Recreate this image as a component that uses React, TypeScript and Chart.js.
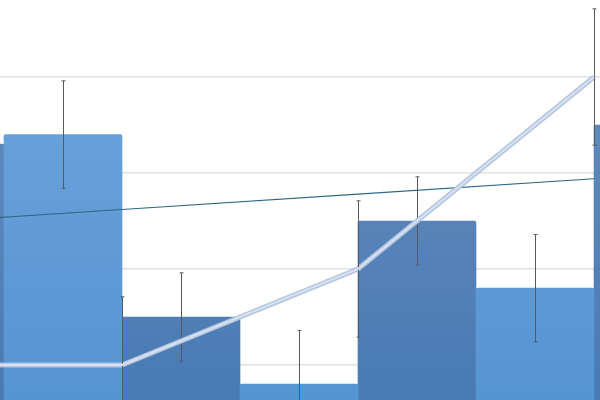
import { useRef, useEffect } from 'react';
import { Chart, registerables } from 'chart.js';
import type { Plugin, ScriptableContext } from 'chart.js';

Chart.register(...registerables);

// four categories, the view is cropped to the middle of the plot
const categories = ['A', 'B', 'C', 'D'];
const lightValues = [2.6, 3.4, 0.8, 1.8];
const lightErrors = [0.56, 0.56, 0.56, 0.56];
const darkValues = [3.3, 1.5, 2.5, 3.5];
const darkErrors = [0.46, 0.46, 0.46, 0.46];
const lineValues = [1, 1, 2, 4];
const lineErrors = [0.71, 0.71, 0.71, 0.71];
const trendValues = [2.46, 2.62, 2.78, 2.94];
const yTicks = [0, 1, 2, 3, 4, 5];

const errorBars: Plugin<'bar'> = {
  id: 'errorBars',
  afterDatasetDraw(chart, args) {
    const ds = chart.data.datasets[args.index] as any;
    if (!ds.errors) return;
    const { ctx } = chart;
    const y = chart.scales.y;
    ctx.save();
    ctx.strokeStyle = '#555a60';
    ctx.lineWidth = 1;
    args.meta.data.forEach((el: any, i: number) => {
      const v = ds.data[i] as number;
      const e = ds.errors[i] as number;
      const x = Math.round(el.x) + 0.5;
      const top = y.getPixelForValue(v + e);
      const bot = y.getPixelForValue(v - e);
      ctx.beginPath();
      ctx.moveTo(x, top);
      ctx.lineTo(x, bot);
      ctx.moveTo(x - 2, top);
      ctx.lineTo(x + 2, top);
      ctx.moveTo(x - 2, bot);
      ctx.lineTo(x + 2, bot);
      ctx.stroke();
    });
    ctx.restore();
  },
};

function barFill(top: string, bottom: string) {
  return (c: ScriptableContext<'bar'>) => {
    const area = c.chart.chartArea;
    if (!area) return bottom;
    const g = c.chart.ctx.createLinearGradient(0, area.top, 0, area.bottom);
    g.addColorStop(0, top);
    g.addColorStop(1, bottom);
    return g;
  };
}

export default function App() {
  const canvasRef = useRef<HTMLCanvasElement>(null);
  const chartRef = useRef<Chart | null>(null);

  useEffect(() => {
    if (!canvasRef.current) return;
    if (chartRef.current) chartRef.current.destroy();

    chartRef.current = new Chart(canvasRef.current, {
      type: 'bar',
      data: {
        labels: categories,
        datasets: [
          {
            type: 'line',
            data: lineValues,
            borderColor: '#b4c5e1',
            borderWidth: 5,
            pointRadius: 0,
            tension: 0,
            order: 1,
            errors: lineErrors,
          } as any,
          {
            type: 'line',
            data: lineValues,
            borderColor: '#d9e2f1',
            borderWidth: 2,
            pointRadius: 0,
            tension: 0,
            order: 0,
          },
          {
            type: 'line',
            data: trendValues,
            borderColor: '#2d6888',
            borderWidth: 1.2,
            pointRadius: 0,
            tension: 0,
            order: 2,
          },
          {
            data: lightValues,
            backgroundColor: barFill('#72a7dd', '#5291d0'),
            borderRadius: 2,
            borderSkipped: 'start',
            order: 3,
            errors: lightErrors,
          } as any,
          {
            data: darkValues,
            backgroundColor: barFill('#6b90bf', '#4477b2'),
            borderRadius: 2,
            borderSkipped: 'start',
            order: 4,
            errors: darkErrors,
          } as any,
        ],
      },
      options: {
        responsive: false,
        animation: false,
        devicePixelRatio: 1,
        layout: { padding: 0 },
        datasets: { bar: { categoryPercentage: 1, barPercentage: 1 } },
        plugins: { legend: { display: false }, tooltip: { enabled: false } },
        scales: {
          x: { display: false },
          y: {
            min: yTicks[0],
            max: yTicks[yTicks.length - 1],
            afterBuildTicks: (s) => { s.ticks = yTicks.map(v => ({ value: v })); },
            afterFit: (s) => { s.width = 0; },
            ticks: { display: false },
            border: { display: false },
            grid: { color: '#e0e0e0', lineWidth: 1.5, drawTicks: false },
          },
        },
      },
      plugins: [errorBars as any],
    });

    return () => {
      if (chartRef.current) { chartRef.current.destroy(); chartRef.current = null; }
    };
  }, []);

  return (
    <div style={{ position: 'fixed', left: 0, top: 0, width: 600, height: 400, overflow: 'hidden', background: '#fff' }}>
      <canvas
        ref={canvasRef}
        width={944}
        height={480}
        style={{ position: 'absolute', left: -232, top: -19, width: 944, height: 480 }}
      />
    </div>
  );
}
